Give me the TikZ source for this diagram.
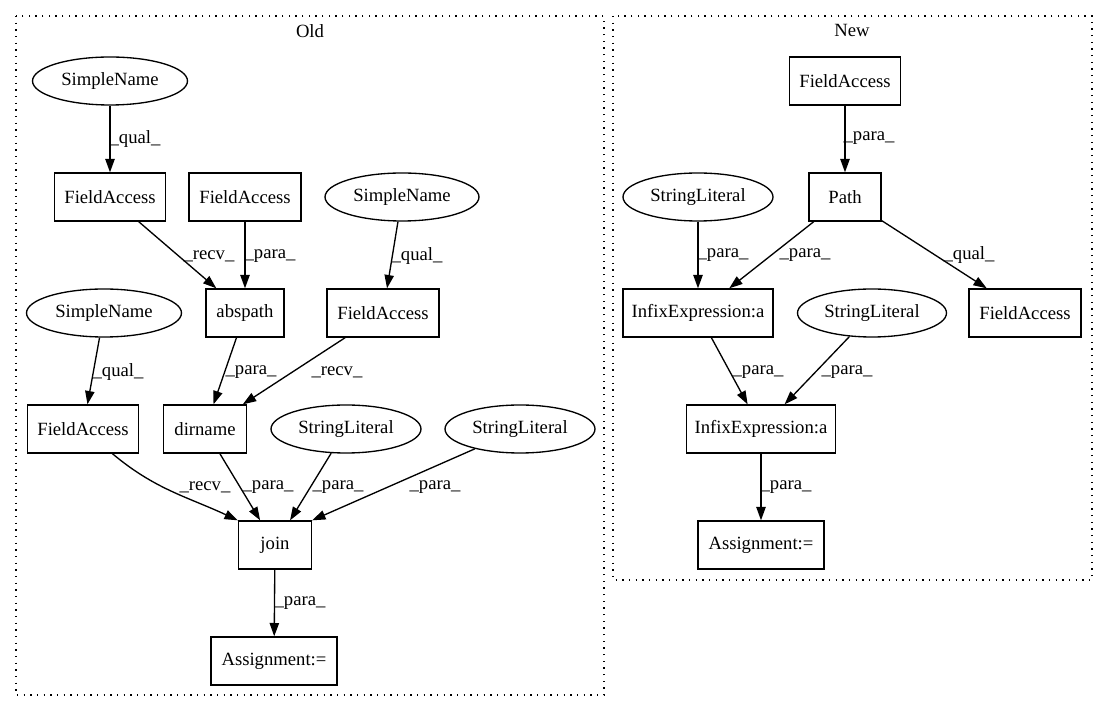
\documentclass[tikz,border=0pt]{standalone}
\usepackage{fontspec}
\setmainfont{Liberation Serif}
\usetikzlibrary{shapes.geometric,arrows.meta}
\begin{document}
\begin{tikzpicture}[x=0.75pt,y=-0.75pt,
  every node/.style={font=\fontsize{14pt}{16pt}\selectfont},
  nw/.style={minimum width=#1*0.75pt},
  box/.style={draw,line width=1pt,rectangle,minimum height=36pt,inner sep=0pt},
  oval/.style={draw,line width=1pt,ellipse,minimum height=36pt,inner sep=0pt},
  edge/.style={draw,line width=1pt,-{Triangle[length=10pt,width=7pt]}},
  lbl/.style={inner sep=0pt},
  cluster/.style={draw,line width=1pt,dash pattern=on 1pt off 4pt}]
\useasboundingbox (0,0) rectangle (1108,712);
% clusters
\draw[cluster] (16,16) rectangle (604,695);
\node[lbl] (oldlbl) at (310,31) {Old};
\draw[cluster] (613,16) rectangle (1092,580);
\node[lbl] (newlbl) at (852,30) {New};
% Old nodes
\node[oval,nw=155] (sn1) at (110,81) {SimpleName};
\node[box,nw=111] (fa1) at (110,197) {FieldAccess};
\node[box,nw=112] (fa2) at (245,197) {FieldAccess};
\node[oval,nw=154] (sn2) at (402,197) {SimpleName};
\node[box,nw=78] (abs) at (245,313) {abspath};
\node[box,nw=112] (fa3) at (383,313) {FieldAccess};
\node[oval,nw=155] (sn3) at (104,313) {SimpleName};
\node[box,nw=111] (fa4) at (83,429) {FieldAccess};
\node[box,nw=83] (dir) at (205,429) {dirname};
\node[oval,nw=150] (sl1) at (346,429) {StringLiteral};
\node[oval,nw=150] (sl2) at (520,429) {StringLiteral};
\node[box,nw=73] (join) at (275,545) {join};
\node[box,nw=126] (asg) at (274,661) {Assignment:=};
% New nodes
\node[box,nw=111] (nfa1) at (845,81) {FieldAccess};
\node[box,nw=72] (path) at (845,197) {Path};
\node[oval,nw=150] (nsl1) at (698,197) {StringLiteral};
\node[box,nw=150] (inf1) at (698,313) {InfixExpression:a};
\node[oval,nw=149] (nsl2) at (872,313) {StringLiteral};
\node[box,nw=112] (nfa2) at (1025,313) {FieldAccess};
\node[box,nw=149] (inf2) at (761,429) {InfixExpression:a};
\node[box,nw=126] (nasg) at (761,545) {Assignment:=};
% Old edges
\draw[edge] (sn1) -- (fa1);
\draw[edge] (fa1) -- (abs);
\draw[edge] (fa2) -- (abs);
\draw[edge] (sn2) -- (fa3);
\draw[edge] (sn3) -- (fa4);
\draw[edge] (abs) -- (dir);
\draw[edge] (fa3) -- (dir);
\draw[edge] (fa4) to[out=-40,in=155] (join.north west);
\draw[edge] (dir) -- (join);
\draw[edge] (sl1) -- (join);
\draw[edge] (sl2) -- (join.north east);
\draw[edge] (join) -- (asg);
% New edges
\draw[edge] (nfa1) -- (path);
\draw[edge] (nsl1) -- (inf1);
\draw[edge] (path) -- (inf1);
\draw[edge] (path) -- (nfa2);
\draw[edge] (inf1) -- (inf2);
\draw[edge] (nsl2) -- (inf2);
\draw[edge] (inf2) -- (nasg);
% edge labels
\node[lbl] (l1) at (135,139) {\_qual\_};
\node[lbl] (l2) at (209,256) {\_recv\_};
\node[lbl] (l3) at (270,256) {\_para\_};
\node[lbl] (l4) at (417,256) {\_qual\_};
\node[lbl] (l5) at (118,372) {\_qual\_};
\node[lbl] (l6) at (251,372) {\_para\_};
\node[lbl] (l7) at (337,372) {\_recv\_};
\node[lbl] (l8) at (205,487) {\_recv\_};
\node[lbl] (l9) at (268,487) {\_para\_};
\node[lbl] (l10) at (338,487) {\_para\_};
\node[lbl] (l11) at (435,487) {\_para\_};
\node[lbl] (l12) at (300,603) {\_para\_};
\node[lbl] (l13) at (869,138) {\_para\_};
\node[lbl] (l14) at (723,255) {\_para\_};
\node[lbl] (l15) at (805,255) {\_para\_};
\node[lbl] (l16) at (969,255) {\_qual\_};
\node[lbl] (l17) at (758,372) {\_para\_};
\node[lbl] (l18) at (847,372) {\_para\_};
\node[lbl] (l19) at (786,487) {\_para\_};
\end{tikzpicture}
\end{document}
